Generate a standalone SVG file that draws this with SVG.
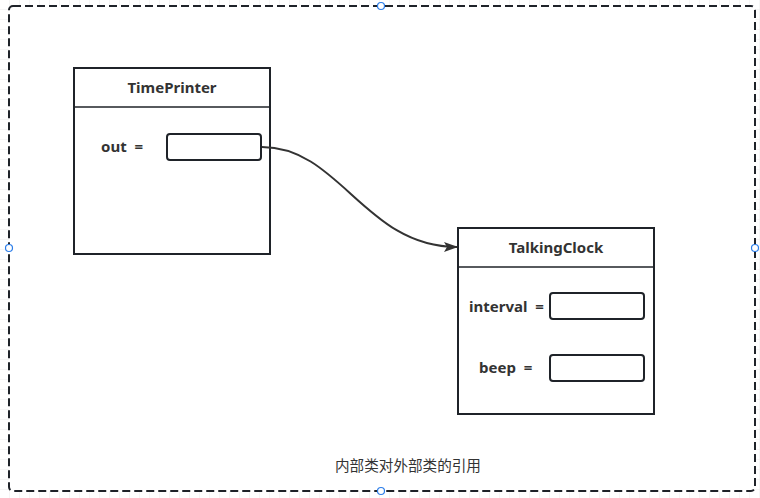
<svg xmlns="http://www.w3.org/2000/svg" width="760" height="498" viewBox="0 0 760 498">
<defs>
<style>
.box{fill:#fff;stroke:#1f2329;stroke-width:2}
.div{stroke:#1f2329;stroke-width:1.5}
.field{fill:#fff;stroke:#1f2329;stroke-width:2}
.t{font-family:"Noto Sans","Open Sans","Liberation Sans",sans-serif;font-weight:bold;font-size:15px;fill:#333;white-space:pre}
.lbl{font-family:"Noto Sans CJK SC","Noto Sans",sans-serif;font-size:14.6px;fill:#333}
.h{fill:#fff;stroke:#2b7de9;stroke-width:1.2}
.conn{fill:none;stroke:#333;stroke-width:2}
</style>
<pattern id="grid" width="10" height="10" patternUnits="userSpaceOnUse">
<path d="M10 0V10H0" fill="none" stroke="#ececec" stroke-width="1"/>
</pattern>
<marker id="arr" markerWidth="14" markerHeight="10" refX="13" refY="5" orient="auto" markerUnits="userSpaceOnUse">
<path d="M0,0 L14,5 L0,10 L3,5 Z" fill="#333"/>
</marker>
</defs>
<rect width="760" height="498" fill="url(#grid)"/>
<g id="container">
<rect x="9" y="6" width="746" height="485" rx="4" fill="#fff" stroke="#1f2329" stroke-width="2" stroke-dasharray="8 4"/>
<text class="lbl" x="408" y="471" text-anchor="middle">内部类对外部类的引用</text>
</g>
<g id="TimePrinter">
<rect class="box" x="74" y="68" width="196" height="186"/>
<line class="div" x1="74" y1="107" x2="270" y2="107"/>
<text class="t" x="172" y="93" text-anchor="middle">TimePrinter</text>
<text class="t" x="101" y="152" xml:space="preserve">out  =</text>
<rect class="field" x="167" y="134" width="94" height="26" rx="3"/>
</g>
<g id="TalkingClock">
<rect class="box" x="458" y="228" width="196" height="186"/>
<line class="div" x1="458" y1="267" x2="654" y2="267"/>
<text class="t" x="556" y="253" text-anchor="middle">TalkingClock</text>
<text class="t" x="469" y="312" xml:space="preserve">interval  =</text>
<rect class="field" x="550" y="293" width="94" height="26" rx="3"/>
<text class="t" x="479" y="373" xml:space="preserve">beep  =</text>
<rect class="field" x="550" y="355" width="94" height="26" rx="3"/>
</g>
<g id="connectors">
<path class="conn" d="M262,147 C340,147 365,247 457,247" marker-end="url(#arr)"/>
</g>
<g id="handles">
<circle class="h" cx="381" cy="6" r="3.5"/>
<circle class="h" cx="9" cy="248" r="3.5"/>
<circle class="h" cx="755" cy="248" r="3.5"/>
<circle class="h" cx="381" cy="491" r="3.5"/>
</g>
</svg>
